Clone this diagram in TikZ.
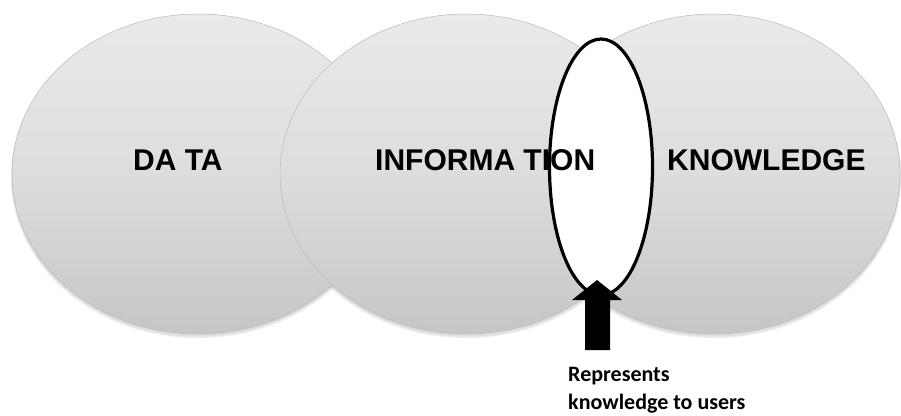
\documentclass[tikz,border=0pt]{standalone}
\usepackage{fontspec}
\setmainfont{Liberation Sans}
\newfontfamily\calib{Carlito}
\usetikzlibrary{shapes.geometric}
\definecolor{ctop}{RGB}{234,234,234}
\definecolor{cmid}{RGB}{221,221,221}
\definecolor{cbot}{RGB}{198,198,198}
\definecolor{cedge}{RGB}{185,185,185}
\begin{document}
\begin{tikzpicture}[x=1pt,y=-1pt,
  bubble/.style={ellipse, inner sep=0pt, minimum width=372pt, minimum height=320pt,
    top color=ctop, bottom color=cbot, middle color=cmid, draw=cedge, line width=0.5pt},
  bigtext/.style={font=\bfseries\fontsize{30}{30}\selectfont, anchor=base west, inner sep=0pt, text=black},
  smalltext/.style={font=\calib\bfseries\fontsize{22}{22}\selectfont, anchor=base west, inner sep=0pt, text=black},
  oval/.style={ellipse, inner sep=0pt, minimum width=103pt, minimum height=256pt}]
\useasboundingbox (0,0) rectangle (901,415);
\fill[white] (0,0) rectangle (901,415);
% soft shadows
\foreach \cx in {198,466,714}{
  \fill[gray!60, opacity=0.25] (\cx,177) ellipse [x radius=187pt, y radius=161pt];
  \fill[gray!60, opacity=0.2] (\cx,176) ellipse [x radius=186.5pt, y radius=160.5pt];
}
\node[bubble] (data) at (198,174) {};
\node[bubble] (know) at (714,174) {};
\node[bubble] (info) at (466,174) {};
\node[oval, fill=white] (ovalfill) at (601,167) {};
\node[bigtext] (tdata) at (133,170) {DA TA};
\node[bigtext] (tinfo) at (375,170) {INFORMA TION};
\node[bigtext] (tknow) at (667,170) {KNOWLEDGE};
\node[oval, draw=black, line width=3.2pt] (ovalline) at (601,167) {};
% block arrow
\fill[black] (585,350) -- (585,300) -- (572,300) -- (597,280) -- (622,300) -- (610,300) -- (610,350) -- cycle;
\node[smalltext] (rep1) at (568,381) {Represents};
\node[smalltext] (rep2) at (568,409) {knowledge to users};
\end{tikzpicture}
\end{document}
